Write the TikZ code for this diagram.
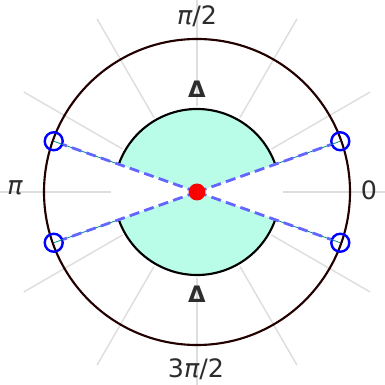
\documentclass[tikz,border=0pt]{standalone}
\usepackage{fontspec}
\setmainfont{DejaVu Sans}
\usetikzlibrary{calc}
\begin{document}
\begin{tikzpicture}[x=0.75pt,y=0.75pt]
\definecolor{fillc}{RGB}{185,252,232}
\definecolor{gridc}{RGB}{222,222,222}
\definecolor{dashc}{RGB}{100,100,255}
\definecolor{outerc}{RGB}{35,0,0}
\definecolor{textc}{RGB}{45,45,45}
\definecolor{tealc}{RGB}{0,140,140}
\tikzset{
  gridline/.style={draw=gridc,line width=1.1pt},
  lab/.style={text=textc,font=\fontsize{19}{22}\selectfont,anchor=base,inner sep=0pt},
  dlab/.style={text=textc,font=\bfseries\fontsize{17}{20}\selectfont,anchor=base,inner sep=0pt},
  marker/.style={circle,draw=blue,line width=1.8pt,minimum size=13.5pt,inner sep=0pt},
  rayline/.style={draw=dashc,line width=2.1pt,dash pattern=on 7.5pt off 4pt},
  tealline/.style={draw=tealc,line width=0.6pt}
}
\useasboundingbox (0,0) rectangle (385,385);
\coordinate (C) at (197,193);
% radial grid lines
\foreach \a in {0,30,...,330}{
  \draw[gridline] ($(C)+(\a:86)$) -- ($(C)+(\a:200)$);
}
% filled inner sectors
\fill[fillc] (C) -- ++(19.5:83) arc (19.5:160.5:83) -- cycle;
\fill[fillc] (C) -- ++(199.5:83) arc (199.5:340.5:83) -- cycle;
\draw[black,line width=1.6pt] ($(C)+(19.5:83)$) arc (19.5:160.5:83);
\draw[black,line width=1.6pt] ($(C)+(199.5:83)$) arc (199.5:340.5:83);
% outer circle
\draw[outerc,line width=1.6pt] (C) circle (153);
% markers
\node[marker] (m1) at ($(C)+(19.5:152)$) {};
\node[marker] (m2) at ($(C)+(160.5:152)$) {};
\node[marker] (m3) at ($(C)+(199.5:152)$) {};
\node[marker] (m4) at ($(C)+(340.5:152)$) {};
\coordinate (e1) at ($(C)+(19.5:83)$);
\coordinate (e2) at ($(C)+(160.5:83)$);
\coordinate (e3) at ($(C)+(199.5:83)$);
\coordinate (e4) at ($(C)+(340.5:83)$);
% rays
\foreach \i in {1,2,3,4}{
  \draw[tealline] (e\i) -- (m\i.center);
  \draw[rayline] (C) -- (m\i);
}
% center dot
\fill[red] (C) circle (8.5);
% labels
\node[lab] (l90) at (197,360) {\itshape π\upshape/2};
\node[lab] (l270) at (196,7.5) {3\itshape π\upshape/2};
\node[lab] (l0) at (369,185) {0};
\node[lab] (l180) at (15,190) {\itshape π};
\node[dlab] (dt) at (197,287.5) {Δ};
\node[dlab] (db) at (197,82) {Δ};
\end{tikzpicture}
\end{document}
